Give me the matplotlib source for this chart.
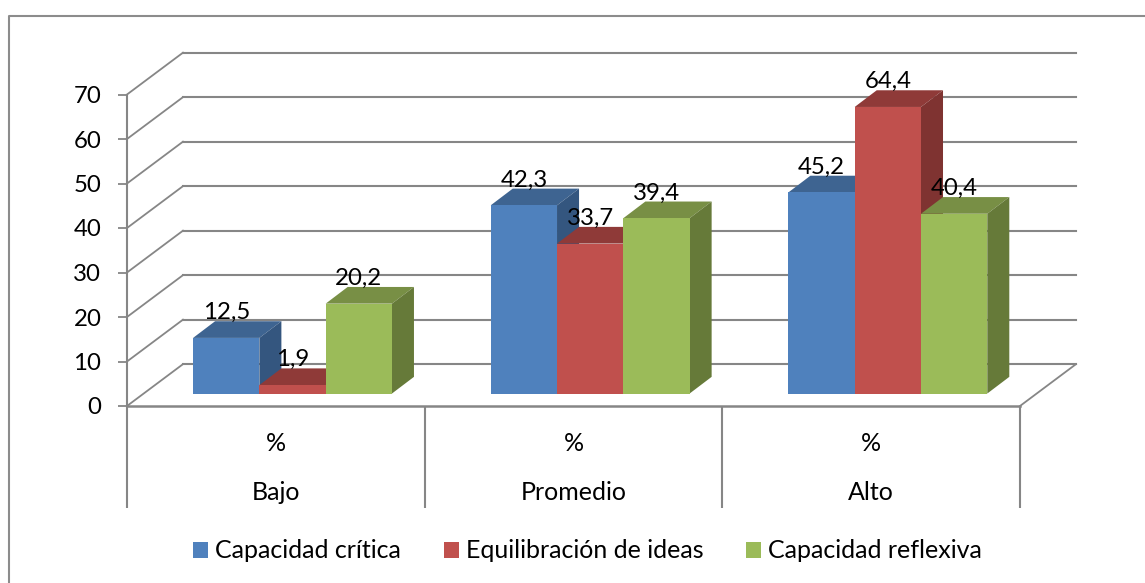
import matplotlib
matplotlib.use('Agg')
import matplotlib.pyplot as plt
from matplotlib.lines import Line2D
from matplotlib.patches import Patch, Polygon

plt.rcParams['font.family'] = ['Lato', 'DejaVu Sans']

categories = ['Bajo', 'Promedio', 'Alto']
subcategories = ['%', '%', '%']
series_names = ['Capacidad crítica', 'Equilibración de ideas', 'Capacidad reflexiva']
capacidad_critica = [12.5, 42.3, 45.2]
equilibracion = [1.9, 33.7, 64.4]
capacidad_reflexiva = [20.2, 39.4, 40.4]
labels_critica = ['12,5', '42,3', '45,2']
labels_equilibracion = ['1,9', '33,7', '64,4']
labels_reflexiva = ['20,2', '39,4', '40,4']
yticks = [0, 10, 20, 30, 40, 50, 60, 70]

series = [capacidad_critica, equilibracion, capacidad_reflexiva]
bar_labels = [labels_critica, labels_equilibracion, labels_reflexiva]

# colours: front, top, side
FRONT = ['#4F81BD', '#C0504D', '#9BBB59']
TOP = ['#3E6491', '#8F3A38', '#788F45']
SIDE = ['#34567F', '#7F3331', '#667A39']
GRAY = '#868686'
FONTSIZE = 17.3
FONTSIZE_TXT = 18

W, H = 1145., 583.
fig = plt.figure(figsize=(W / 100, H / 100), dpi=100)
ax = fig.add_axes([127 / W, (H - 406) / H, (1020 - 127) / W, 311.5 / H])
ax.set_xlim(0, 3)
ax.set_ylim(0, 70)

# 3d look, in data units
wall_dx = 0.188
wall_dy = 9.4
bar_dx = 0.074
bar_dy = 3.75
bar_floor = 2.8
bar_w = 0.2227
center = 0.556

# outer frame of the chart
fig.add_artist(Line2D([8.5 / W, 8.5 / W, 1.], [0., (H - 15.5) / H, (H - 15.5) / H],
                      color='#8C8C8C', lw=1.5))

# walls
for v in yticks:
    ax.plot([0, wall_dx], [v, v + wall_dy], color=GRAY, lw=1.3, clip_on=False, zorder=1)
    ax.plot([wall_dx, 3 + wall_dx], [v + wall_dy, v + wall_dy], color=GRAY, lw=1.5,
            clip_on=False, zorder=1)
ax.plot([3, 3 + wall_dx], [0, wall_dy], color=GRAY, lw=1.3, clip_on=False, zorder=1)
ax.plot([0, 3], [0, 0], color=GRAY, lw=1.8, clip_on=False, zorder=1)
ax.vlines([0, 1, 2, 3], -23, 0, color=GRAY, lw=1.5, clip_on=False, zorder=1)

zo = 2
for s, vals in enumerate(series):
    for i, v in enumerate(vals):
        x0 = i + center + (s - 1.5) * bar_w
        x1 = x0 + bar_w
        top = bar_floor + v
        ax.bar(x0, v, bar_w, bottom=bar_floor, align='edge', color=FRONT[s],
               clip_on=False, zorder=zo + 1)
        ax.add_patch(Polygon([(x0, top), (x1, top), (x1 + bar_dx, top + bar_dy),
                              (x0 + bar_dx, top + bar_dy)], closed=True,
                             facecolor=TOP[s], edgecolor='none', clip_on=False, zorder=zo))
        ax.add_patch(Polygon([(x1, bar_floor), (x1, top), (x1 + bar_dx, top + bar_dy),
                              (x1 + bar_dx, bar_floor + bar_dy)], closed=True,
                             facecolor=SIDE[s], edgecolor='none', clip_on=False, zorder=zo))
        ax.text(x0 + bar_w / 2, top + 5.7, bar_labels[s][i], ha='center', va='center',
                fontsize=FONTSIZE, color='black', zorder=20)
    zo += 2

for i in range(len(categories)):
    ax.text(i + 0.5, -8.5, subcategories[i], ha='center', va='center', fontsize=FONTSIZE_TXT)
    ax.text(i + 0.5, -19.5, categories[i], ha='center', va='center', fontsize=FONTSIZE_TXT)

for name in ['top', 'right', 'bottom']:
    ax.spines[name].set_visible(False)
ax.spines['left'].set_color(GRAY)
ax.spines['left'].set_linewidth(1.5)
ax.set_xticks([])
ax.set_yticks(yticks)
ax.tick_params(axis='y', length=6.5, width=1.3, color=GRAY, pad=12, labelsize=FONTSIZE)
ax.patch.set_visible(False)

handles = [Patch(facecolor=c, edgecolor='none') for c in FRONT]
fig.legend(handles, series_names, ncol=3, loc='center', bbox_to_anchor=(587.5 / W, (H - 551) / H),
           frameon=False, fontsize=FONTSIZE_TXT, handlelength=0.6, handleheight=0.6,
           handletextpad=0.28, columnspacing=1.7)

fig.savefig('out.png', dpi=100)
